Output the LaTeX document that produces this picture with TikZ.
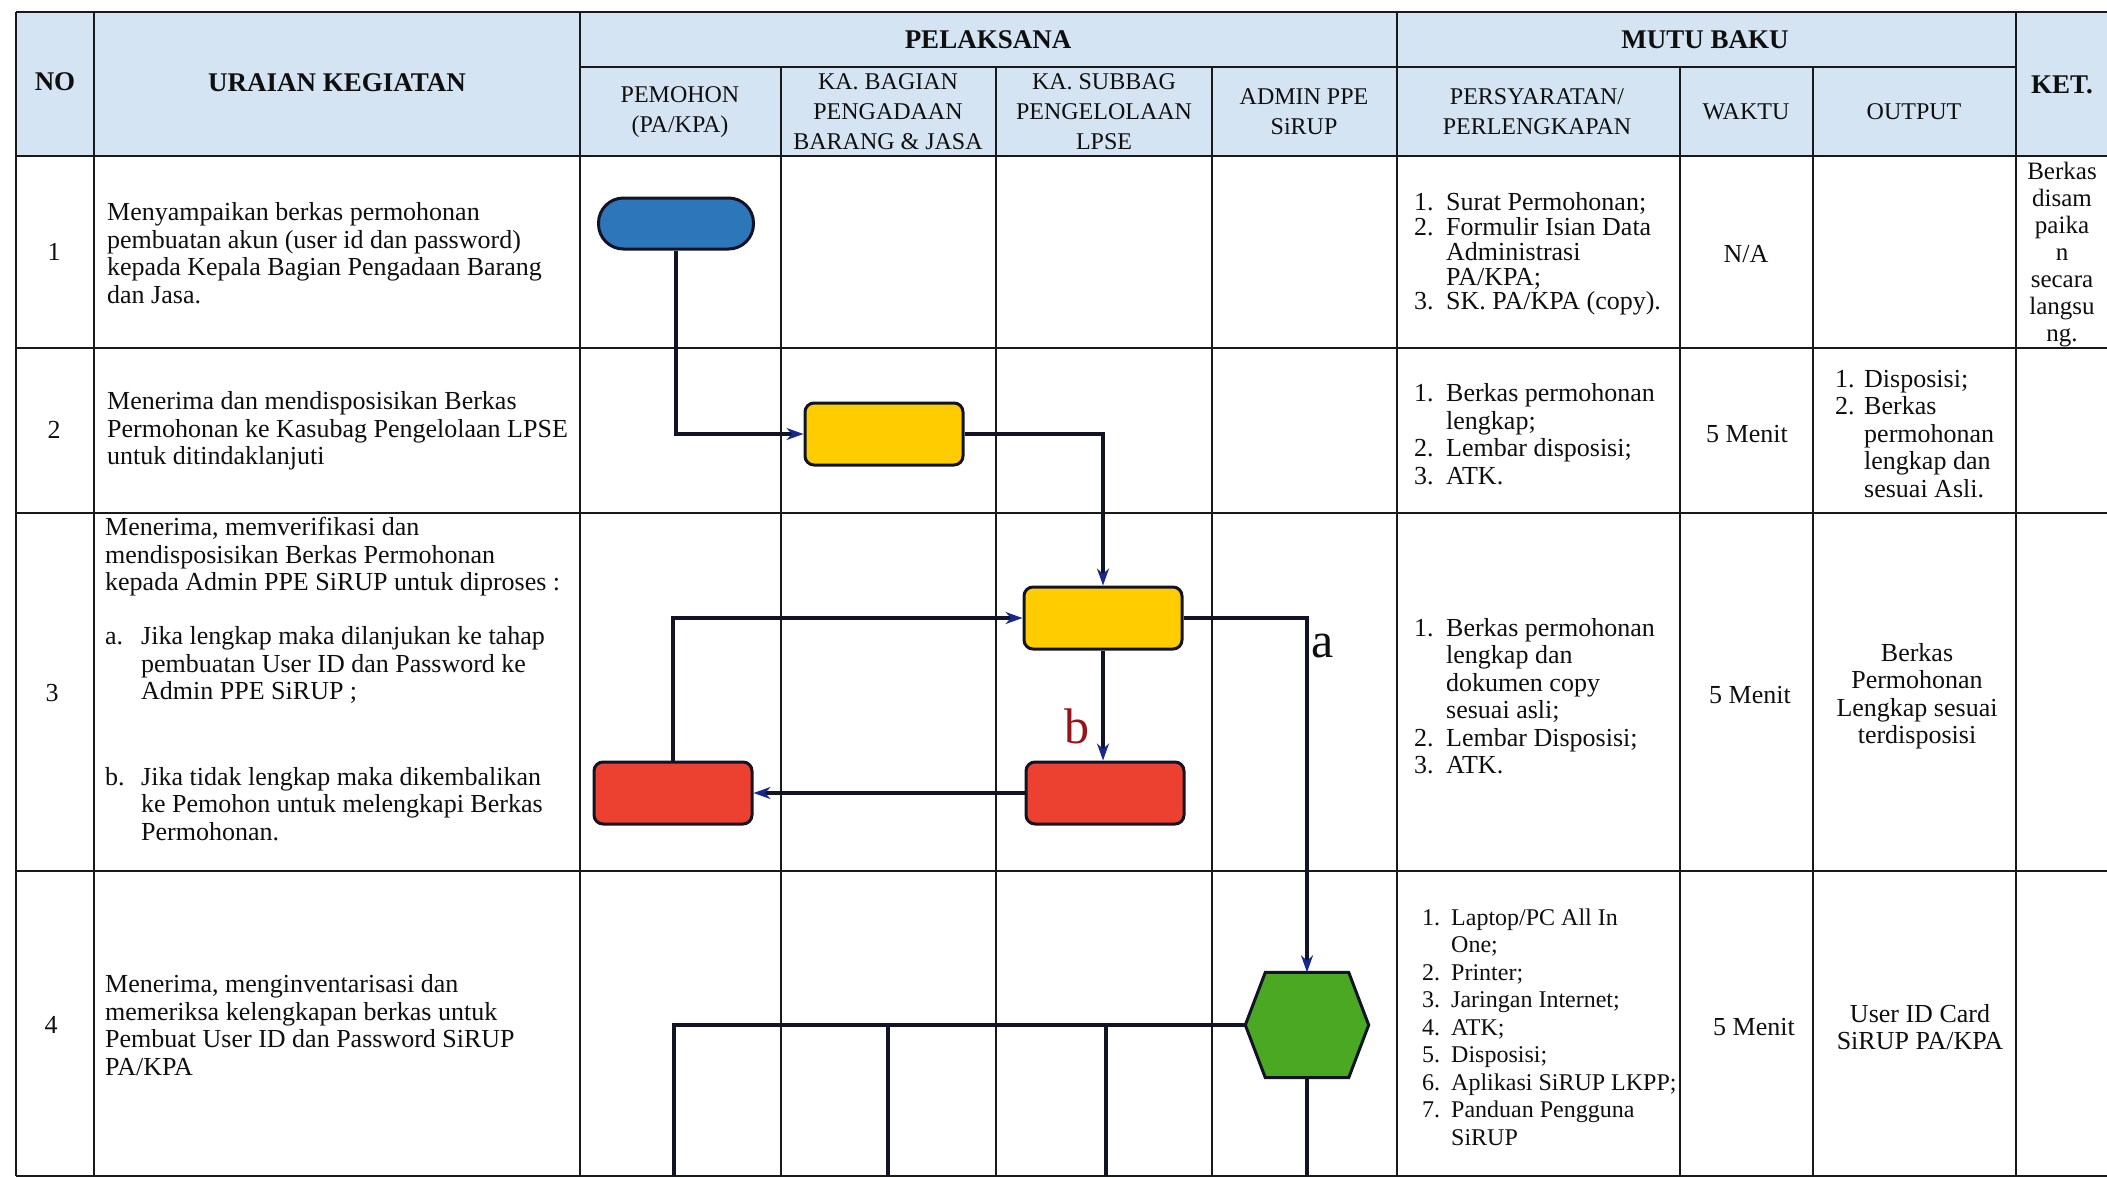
\documentclass[tikz,border=0pt]{standalone}
\usepackage{fontspec}
\setmainfont{Liberation Serif}
\usetikzlibrary{arrows.meta,calc}
\definecolor{hdrc}{RGB}{212,228,242}
\definecolor{gridc}{RGB}{25,25,25}
\definecolor{linec}{RGB}{18,20,38}
\definecolor{arrc}{RGB}{25,40,140}
\definecolor{bluec}{RGB}{46,118,186}
\definecolor{yelc}{RGB}{255,204,0}
\definecolor{redc}{RGB}{236,64,48}
\definecolor{grnc}{RGB}{74,168,34}
\definecolor{bredc}{RGB}{150,20,25}
\definecolor{textc}{RGB}{15,15,15}
\newcommand{\myitem}[3][32pt]{\makebox[#1][l]{#2}#3}
\newcommand{\mycont}[2][32pt]{\hspace*{#1}#2}
\begin{document}
\begin{tikzpicture}[x=1pt,y=-1pt,
  grid/.style={line width=2.5pt,draw=gridc},
  flow/.style={line width=3.2pt,draw=linec},
  arr/.style={flow,-{Stealth[length=17pt,width=12pt,color=arrc]}},
  txt/.style={inner sep=0pt,font=\fontsize{26}{27.5}\selectfont,align=left,text=textc},
  ctxt/.style={txt,align=center},
  hdr/.style={inner sep=0pt,font=\bfseries\fontsize{27}{29}\selectfont,align=center,text=textc},
  shdr/.style={inner sep=0pt,font=\fontsize{24}{30}\selectfont,align=center,text=textc},
  procbox/.style={draw=linec,line width=3pt,rounded corners=9pt,minimum width=158pt,minimum height=62pt,inner sep=0pt},
  termbox/.style={draw=linec,line width=3pt,rounded corners=25pt,minimum width=155pt,minimum height=51pt,inner sep=0pt,fill=bluec},
  lbl/.style={inner sep=0pt,font=\fontsize{50}{50}\selectfont}
]
\useasboundingbox (0,0) rectangle (2107,1178);
\fill[white] (0,0) rectangle (2107,1178);
\fill[hdrc] (16,12) rectangle (2107,156);
% grid
\draw[grid] (16,12) -- (2107,12);
\draw[grid] (580,67) -- (2016,67);
\draw[grid] (16,156) -- (2107,156);
\draw[grid] (16,348) -- (2107,348);
\draw[grid] (16,513) -- (2107,513);
\draw[grid] (16,871) -- (2107,871);
\draw[grid] (16,1176) -- (2107,1176);
\foreach \xx in {16,94,580,1397,2016} {\draw[grid] (\xx,12) -- (\xx,1176);}
\foreach \xx in {781,996,1212,1680,1813} {\draw[grid] (\xx,67) -- (\xx,1176);}
% headers
\node[hdr] (hno) at (55,82) {NO};
\node[hdr] (hur) at (337,83) {URAIAN KEGIATAN};
\node[hdr] (hpl) at (988,40) {PELAKSANA};
\node[hdr] (hmb) at (1705,40) {MUTU BAKU};
\node[hdr] (hket) at (2062,85) {KET.};
\node[shdr] (hpm) at (680,112) {PEMOHON\\(PA/KPA)};
\node[shdr] (hkb) at (888,112) {KA. BAGIAN\\PENGADAAN\\BARANG \& JASA};
\node[shdr] (hks) at (1104,112) {KA. SUBBAG\\PENGELOLAAN\\LPSE};
\node[shdr] (had) at (1304,112) {ADMIN PPE\\SiRUP};
\node[shdr] (hps) at (1537,112) {PERSYARATAN/\\PERLENGKAPAN};
\node[shdr] (hwk) at (1746,112) {WAKTU};
\node[shdr] (hop) at (1914,112) {OUTPUT};
% numbers
\node[ctxt] (n1) at (54,252) {1};
\node[ctxt] (n2) at (54,430) {2};
\node[ctxt] (n3) at (52,693) {3};
\node[ctxt] (n4) at (51,1025) {4};
% uraian
\node[txt,anchor=west] (u1) at (107,253) {Menyampaikan berkas permohonan\\pembuatan akun (user id dan password)\\kepada Kepala Bagian Pengadaan Barang\\dan Jasa.};
\node[txt,anchor=west] (u2) at (107,431) {Menerima dan mendisposisikan Berkas\\Permohonan ke Kasubag Pengelolaan LPSE\\untuk ditindaklanjuti};
\node[txt,anchor=west] (u3a) at (105,557) {Menerima, memverifikasi dan\\mendisposisikan Berkas Permohonan\\kepada Admin PPE SiRUP untuk diproses :};
\node[txt,anchor=west] (u3b) at (105,665) {\myitem[36pt]{a.}{Jika lengkap maka dilanjukan ke tahap}\\\mycont[36pt]{pembuatan User ID dan Password ke}\\\mycont[36pt]{Admin PPE SiRUP ;}};
\node[txt,anchor=west] (u3c) at (105,804) {\myitem[36pt]{b.}{Jika tidak lengkap maka dikembalikan}\\\mycont[36pt]{ke Pemohon untuk melengkapi Berkas}\\\mycont[36pt]{Permohonan.}};
\node[txt,anchor=west] (u4) at (105,1025) {Menerima, menginventarisasi dan\\memeriksa kelengkapan berkas untuk\\Pembuat User ID dan Password SiRUP\\PA/KPA};
% persyaratan
\node[txt,anchor=west,font=\fontsize{26}{24.8}\selectfont] (p1) at (1414,254) {\myitem{1.}{Surat Permohonan;}\\\myitem{2.}{Formulir Isian Data}\\\mycont{Administrasi}\\\mycont{PA/KPA;}\\\myitem{3.}{SK. PA/KPA (copy).}};
\node[txt,anchor=west] (p2) at (1414,434) {\myitem{1.}{Berkas permohonan}\\\mycont{lengkap;}\\\myitem{2.}{Lembar disposisi;}\\\myitem{3.}{ATK.}};
\node[txt,anchor=west] (p3) at (1414,696) {\myitem{1.}{Berkas permohonan}\\\mycont{lengkap dan}\\\mycont{dokumen copy}\\\mycont{sesuai asli;}\\\myitem{2.}{Lembar Disposisi;}\\\myitem{3.}{ATK.}};
\node[txt,anchor=west,font=\fontsize{24}{27.5}\selectfont] (p4) at (1422,1027) {\myitem[29pt]{1.}{Laptop/PC All In}\\\mycont[29pt]{One;}\\\myitem[29pt]{2.}{Printer;}\\\myitem[29pt]{3.}{Jaringan Internet;}\\\myitem[29pt]{4.}{ATK;}\\\myitem[29pt]{5.}{Disposisi;}\\\myitem[29pt]{6.}{Aplikasi SiRUP LKPP;}\\\myitem[29pt]{7.}{Panduan Pengguna}\\\mycont[29pt]{SiRUP}};
% waktu
\node[ctxt] (w1) at (1746,254) {N/A};
\node[ctxt] (w2) at (1747,434) {5 Menit};
\node[ctxt] (w3) at (1750,695) {5 Menit};
\node[ctxt] (w4) at (1754,1027) {5 Menit};
% output
\node[txt,anchor=west] (o2) at (1835,434) {\myitem[29pt]{1.}{Disposisi;}\\\myitem[29pt]{2.}{Berkas}\\\mycont[29pt]{permohonan}\\\mycont[29pt]{lengkap dan}\\\mycont[29pt]{sesuai Asli.}};
\node[ctxt] (o3) at (1917,696) {Berkas\\Permohonan\\Lengkap sesuai\\terdisposisi};
\node[ctxt] (o4) at (1920,1027) {User ID Card\\SiRUP PA/KPA};
% ket
\node[ctxt,font=\fontsize{25}{27}\selectfont] (k1) at (2062,255) {Berkas\\disam\\paika\\n\\secara\\langsu\\ng.};
% flow shapes
\node[termbox] (st) at (676,223.5) {};
\node[procbox,fill=yelc] (y1) at (884,434) {};
\node[procbox,fill=yelc] (y2) at (1103,618) {};
\node[procbox,fill=redc] (r1) at (673,793) {};
\node[procbox,fill=redc] (r2) at (1105,793) {};
\node[minimum width=123pt,minimum height=105pt,inner sep=0pt] (hex) at (1307,1025) {};
\filldraw[fill=grnc,draw=linec,line width=3pt] ($(hex.north west)+(20,0)$) -- ($(hex.north east)+(-20,0)$) -- (hex.east) -- ($(hex.south east)+(-20,0)$) -- ($(hex.south west)+(20,0)$) -- (hex.west) -- cycle;
% connectors
\draw[arr] (st.south) |- (y1.west);
\draw[arr] (y1.east) -| (y2.north);
\draw[arr] (r1.north) |- (y2.west);
\draw[arr] (y2.east) -| (hex.north);
\draw[arr] (y2.south) -- (y2.south |- r2.north);
\draw[arr] (r2.west) -- (r1.east);
\coordinate (b1) at (674,1176);
\coordinate (b2) at (888,1176);
\coordinate (b3) at (1106,1176);
\coordinate (b4) at (1307,1176);
\draw[flow] (hex.west) -- (hex.west -| b1) -- (b1);
\draw[flow] (hex.west -| b2) -- (b2);
\draw[flow] (hex.west -| b3) -- (b3);
\draw[flow] (hex.south) -- (b4);
% labels
\node[lbl,text=textc] (la) at (1323,646) {a};
\node[lbl,text=bredc] (lb) at (1077,726) {b};
\end{tikzpicture}
\end{document}
